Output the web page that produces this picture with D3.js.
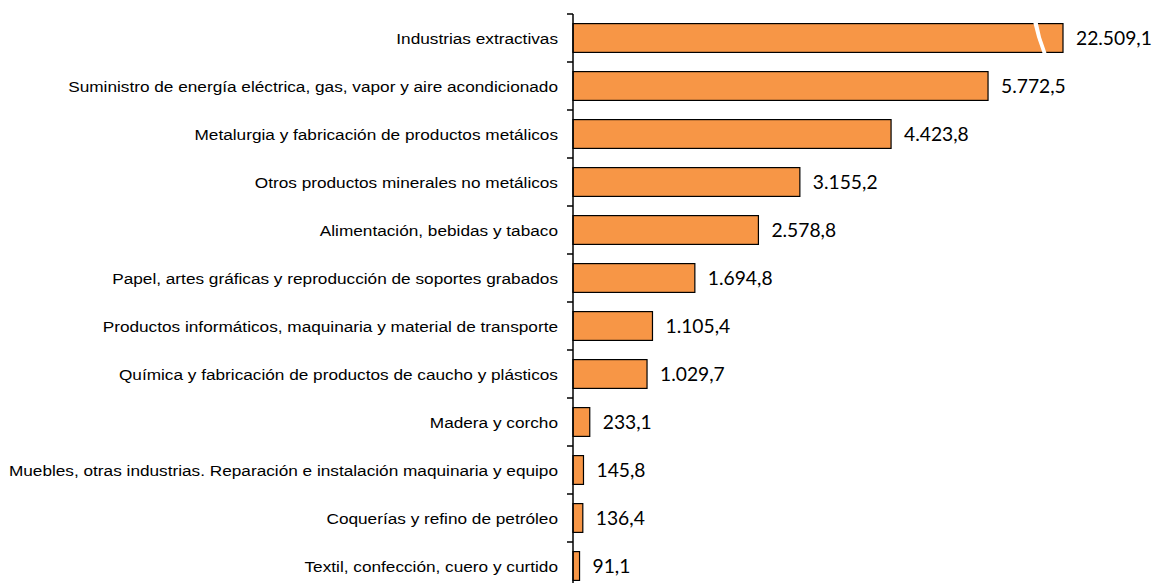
<!DOCTYPE html>
<html>
<head>
<meta charset="utf-8">
<script src="https://cdn.jsdelivr.net/npm/d3@7"></script>
<style>
  body { margin: 0; background: #fff; }
  svg { display: block; }
</style>
</head>
<body>
<div id="chart"></div>
<script>
(function () {

  // Sectors (top to bottom)
  const categories = [
    "Industrias extractivas",
    "Suministro de energía eléctrica, gas, vapor y aire acondicionado",
    "Metalurgia y fabricación de productos metálicos",
    "Otros productos minerales no metálicos",
    "Alimentación, bebidas y tabaco",
    "Papel, artes gráficas y reproducción de soportes grabados",
    "Productos informáticos, maquinaria y material  de transporte",
    "Química y fabricación de productos de caucho y plásticos",
    "Madera y corcho",
    "Muebles, otras industrias. Reparación e instalación maquinaria y equipo",
    "Coquerías y refino de petróleo",
    "Textil, confección, cuero y curtido"
  ];

  const values = [22509.1, 5772.5, 4423.8, 3155.2, 2578.8, 1694.8, 1105.4, 1029.7, 233.1, 145.8, 136.4, 91.1];

  // axis is cut: bars above this are drawn broken
  const xMax = 7000;
  const breakAt = 6815;

  const width = 1152, height = 583;
  const axisX = 573;
  const stretch = 1.125; // the original text is a bit wider than tall

  const es = d3.formatLocale({ decimal: ",", thousands: ".", grouping: [3], currency: ["", ""] });
  const fmt = es.format(",.1f");

  const svg = d3.select("#chart")
    .append("svg")
    .attr("width", width)
    .attr("height", height);

  const x = d3.scaleLinear()
    .domain([0, xMax])
    .range([axisX, axisX + 503.3]);

  const y = d3.scaleBand()
    .domain(categories)
    .range([14, 14 + 48 * categories.length])
    .paddingInner(0.4)
    .paddingOuter(0.2);

  const gap = (y.step() - y.bandwidth()) / 2;

  // Bars
  svg.selectAll("rect.bar")
    .data(values)
    .enter()
    .append("rect")
    .attr("class", "bar")
    .attr("x", x(0))
    .attr("y", (d, i) => y(categories[i]))
    .attr("width", d => x(Math.min(d, breakAt)) - x(0))
    .attr("height", y.bandwidth())
    .style("fill", "#F79646")
    .style("stroke", "#000")
    .style("stroke-width", 1.2);

  // Break mark on clipped bars
  values.forEach((d, i) => {
    if (d <= breakAt) return;
    const xb = x(breakAt);
    const t = y(categories[i]), b = t + y.bandwidth(), m = t + y.bandwidth() / 2;
    const pts = [
      [xb - 30, t - 2], [xb - 26, m - 1], [xb - 25, m + 2], [xb - 20, b + 2],
      [xb - 16, b + 2], [xb - 21, m + 2], [xb - 22, m - 1], [xb - 25.5, t - 2]
    ];
    svg.append("polygon")
      .attr("points", pts.map(p => p.join(",")).join(" "))
      .style("fill", "#fff");
  });

  // Value labels
  svg.selectAll("text.value")
    .data(values)
    .enter()
    .append("text")
    .attr("class", "value")
    .attr("x", d => x(Math.min(d, breakAt)) + 13)
    .attr("y", (d, i) => y(categories[i]) + y.bandwidth() / 2)
    .attr("dy", "0.36em")
    .style("font-family", "Lato, 'Open Sans', sans-serif")
    .style("font-size", "18.5px")
    .style("fill", "#000")
    .text(d => fmt(d))
    .each(function () {
      const w = this.getComputedTextLength();
      d3.select(this).attr("textLength", w * 1.04).attr("lengthAdjust", "spacingAndGlyphs");
    });

  // Y axis line and ticks between categories
  svg.append("line")
    .attr("x1", axisX).attr("x2", axisX)
    .attr("y1", 14).attr("y2", height)
    .style("stroke", "#000")
    .style("stroke-width", 1.5);

  svg.selectAll("line.tick")
    .data(categories)
    .enter()
    .append("line")
    .attr("class", "tick")
    .attr("x1", axisX - 6).attr("x2", axisX)
    .attr("y1", d => y(d) - gap)
    .attr("y2", d => y(d) - gap)
    .style("stroke", "#000")
    .style("stroke-width", 1.5);

  // Category labels
  svg.selectAll("text.cat")
    .data(categories)
    .enter()
    .append("text")
    .attr("class", "cat")
    .attr("x", 558)
    .attr("y", d => y(d) + y.bandwidth() / 2)
    .attr("dy", "0.36em")
    .attr("text-anchor", "end")
    .style("font-family", "'Liberation Sans', Arial, sans-serif")
    .style("font-size", "15.3px")
    .style("fill", "#000")
    .text(d => d)
    .each(function () {
      const w = this.getComputedTextLength();
      d3.select(this).attr("textLength", w * stretch).attr("lengthAdjust", "spacingAndGlyphs");
    });

})();
</script>
</body>
</html>
